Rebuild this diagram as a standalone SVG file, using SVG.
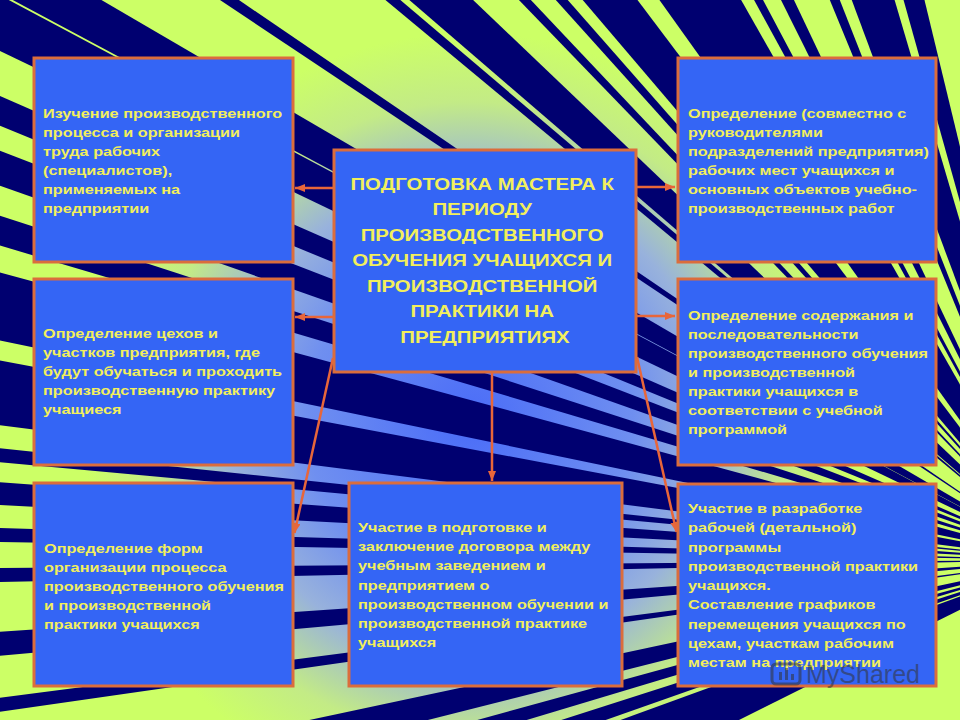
<svg xmlns="http://www.w3.org/2000/svg" width="960" height="720" viewBox="0 0 960 720">
<defs>
<radialGradient id="bg" gradientUnits="userSpaceOnUse" cx="470" cy="420" r="430">
<stop offset="0" stop-color="#4a6cf8"/>
<stop offset="0.38" stop-color="#6f8ff0"/>
<stop offset="0.56" stop-color="#98b2dc"/>
<stop offset="0.74" stop-color="#c3eb86"/>
<stop offset="0.9" stop-color="#ccff66"/>
</radialGradient>
<marker id="ah" markerUnits="userSpaceOnUse" markerWidth="10" markerHeight="8" refX="10" refY="4" orient="auto">
<path d="M0,0 L10,4 L0,8 z" fill="#e8663a"/>
</marker>
<style>
.ray{fill:#000070}
.box{fill:#3465f5;stroke:#db6d3c;stroke-width:3}
.t{font-family:"Liberation Sans",Arial,sans-serif;font-weight:bold;font-size:13px;fill:#f2ef5c}
.h{font-family:"Liberation Sans",Arial,sans-serif;font-weight:bold;font-size:17px;fill:#f2ef5c;text-anchor:middle}
.c{stroke:#e8663a;stroke-width:2.5;fill:none;marker-end:url(#ah)}
</style>
</defs>
<g id="background">
<rect width="960" height="720" fill="url(#bg)"/>
<polygon class="ray" points="1060,560 -2,50 -2,-2 5,-2"/>
<polygon class="ray" points="1060,560 9,-2 98,-2"/>
<polygon class="ray" points="1060,560 217,-2 236,-2"/>
<polygon class="ray" points="1060,560 383,-2 398,-2"/>
<polygon class="ray" points="1060,560 407,-2 471,-2"/>
<polygon class="ray" points="1060,560 517,-2 529,-2"/>
<polygon class="ray" points="1060,560 554,-2 566,-2"/>
<polygon class="ray" points="1060,560 581,-2 636,-2"/>
<polygon class="ray" points="1060,560 658,-2 740,-2"/>
<polygon class="ray" points="1060,560 753,-2 762,-2"/>
<polygon class="ray" points="1060,560 780,-2 793,-2"/>
<polygon class="ray" points="1060,560 829,-2 839,-2"/>
<polygon class="ray" points="1060,560 851,-2 894,-2"/>
<polygon class="ray" points="1060,560 903,-2 924,-2"/>
<polygon class="ray" points="1060,560 -2,95 -2,125"/>
<polygon class="ray" points="1060,560 -2,150 -2,185"/>
<polygon class="ray" points="1060,560 -2,215 -2,245"/>
<polygon class="ray" points="1060,560 -2,272 -2,340"/>
<polygon class="ray" points="1060,560 -2,360 -2,425"/>
<polygon class="ray" points="1060,560 -2,448 -2,462"/>
<polygon class="ray" points="1060,560 -2,482 -2,505"/>
<polygon class="ray" points="1060,560 -2,528 -2,542"/>
<polygon class="ray" points="1060,560 -2,568 -2,582"/>
<polygon class="ray" points="1060,560 -2,632 -2,656"/>
<polygon class="ray" points="1060,560 -2,698 -2,712"/>
<polygon class="ray" points="1060,560 300,722 420,722"/>
<polygon class="ray" points="1060,560 470,722 520,722"/>
<polygon class="ray" points="1060,560 555,722 600,722"/>
<polygon class="ray" points="1060,560 615,722 735,722"/>
</g>
<g id="connectors">
<line class="c" x1="333" y1="188" x2="295" y2="188"/>
<line class="c" x1="333" y1="317" x2="295" y2="317"/>
<line class="c" x1="637" y1="187" x2="675" y2="187"/>
<line class="c" x1="637" y1="316" x2="675" y2="316"/>
<line class="c" x1="492" y1="373" x2="492" y2="481"/>
<line class="c" x1="333" y1="358" x2="294.5" y2="533"/>
<line class="c" x1="637" y1="357" x2="676.5" y2="532"/>
</g>
<g id="node-center">
<rect class="box" x="334" y="150" width="302" height="222"/>
<text class="h" transform="translate(485,0) scale(1.2,1)">
<tspan x="0" y="190">ПОДГОТОВКА МАСТЕРА К</tspan>
<tspan x="0" y="215.5">ПЕРИОДУ</tspan>
<tspan x="0" y="241">ПРОИЗВОДСТВЕННОГО</tspan>
<tspan x="0" y="266.5">ОБУЧЕНИЯ УЧАЩИХСЯ И</tspan>
<tspan x="0" y="292">ПРОИЗВОДСТВЕННОЙ</tspan>
<tspan x="0" y="317.5">ПРАКТИКИ НА</tspan>
<tspan x="0" y="343">ПРЕДПРИЯТИЯХ</tspan>
</text>
</g>
<g id="node-study">
<rect class="box" x="34" y="58" width="259" height="204"/>
<text class="t" transform="translate(43,0) scale(1.25,1)">
<tspan x="0" y="118">Изучение производственного</tspan>
<tspan x="0" y="137">процесса и организации</tspan>
<tspan x="0" y="156">труда рабочих</tspan>
<tspan x="0" y="175">(специалистов),</tspan>
<tspan x="0" y="194">применяемых на</tspan>
<tspan x="0" y="213">предприятии</tspan>
</text>
</g>
<g id="node-workplaces">
<rect class="box" x="678" y="58" width="258" height="204"/>
<text class="t" transform="translate(688,0) scale(1.25,1)">
<tspan x="0" y="118">Определение (совместно с</tspan>
<tspan x="0" y="137">руководителями</tspan>
<tspan x="0" y="156">подразделений предприятия)</tspan>
<tspan x="0" y="175">рабочих мест учащихся и</tspan>
<tspan x="0" y="194">основных объектов учебно-</tspan>
<tspan x="0" y="213">производственных работ</tspan>
</text>
</g>
<g id="node-shops">
<rect class="box" x="34" y="279" width="259" height="186"/>
<text class="t" transform="translate(43,0) scale(1.25,1)">
<tspan x="0" y="338">Определение цехов и</tspan>
<tspan x="0" y="357">участков предприятия, где</tspan>
<tspan x="0" y="376">будут обучаться и проходить</tspan>
<tspan x="0" y="395">производственную практику</tspan>
<tspan x="0" y="414">учащиеся</tspan>
</text>
</g>
<g id="node-content">
<rect class="box" x="678" y="279" width="258" height="186"/>
<text class="t" transform="translate(688,0) scale(1.25,1)">
<tspan x="0" y="320">Определение содержания и</tspan>
<tspan x="0" y="339">последовательности</tspan>
<tspan x="0" y="358">производственного обучения</tspan>
<tspan x="0" y="377">и производственной</tspan>
<tspan x="0" y="396">практики учащихся в</tspan>
<tspan x="0" y="415">соответствии с учебной</tspan>
<tspan x="0" y="434">программой</tspan>
</text>
</g>
<g id="node-forms">
<rect class="box" x="34" y="483" width="259" height="203"/>
<text class="t" transform="translate(44,0) scale(1.25,1)">
<tspan x="0" y="553">Определение форм</tspan>
<tspan x="0" y="572">организации процесса</tspan>
<tspan x="0" y="591">производственного обучения</tspan>
<tspan x="0" y="610">и производственной</tspan>
<tspan x="0" y="629">практики учащихся</tspan>
</text>
</g>
<g id="node-contract">
<rect class="box" x="349" y="483" width="273" height="203"/>
<text class="t" transform="translate(358,0) scale(1.25,1)">
<tspan x="0" y="532">Участие в подготовке и</tspan>
<tspan x="0" y="551">заключение договора между</tspan>
<tspan x="0" y="570">учебным заведением и</tspan>
<tspan x="0" y="590">предприятием о</tspan>
<tspan x="0" y="609">производственном обучении и</tspan>
<tspan x="0" y="628">производственной практике</tspan>
<tspan x="0" y="647">учащихся</tspan>
</text>
</g>
<g id="node-program">
<rect class="box" x="678" y="484" width="258" height="202"/>
<text class="t" transform="translate(688,0) scale(1.25,1)">
<tspan x="0" y="513">Участие в разработке</tspan>
<tspan x="0" y="532">рабочей (детальной)</tspan>
<tspan x="0" y="552">программы</tspan>
<tspan x="0" y="571">производственной практики</tspan>
<tspan x="0" y="590">учащихся.</tspan>
<tspan x="0" y="609">Составление графиков</tspan>
<tspan x="0" y="629">перемещения учащихся по</tspan>
<tspan x="0" y="648">цехам, участкам рабочим</tspan>
<tspan x="0" y="667">местам на предприятии</tspan>
</text>
</g>
<g id="watermark" opacity="0.55">
<rect x="772" y="664" width="28" height="20" rx="4" fill="none" stroke="#333" stroke-width="3"/>
<rect x="779" y="672" width="3" height="8" fill="#333"/>
<rect x="785" y="668" width="3" height="12" fill="#333"/>
<rect x="791" y="674" width="3" height="6" fill="#333"/>
<text x="806" y="683" font-family="'Liberation Sans',Arial,sans-serif" font-size="25" fill="#333">MyShared</text>
</g>
</svg>
